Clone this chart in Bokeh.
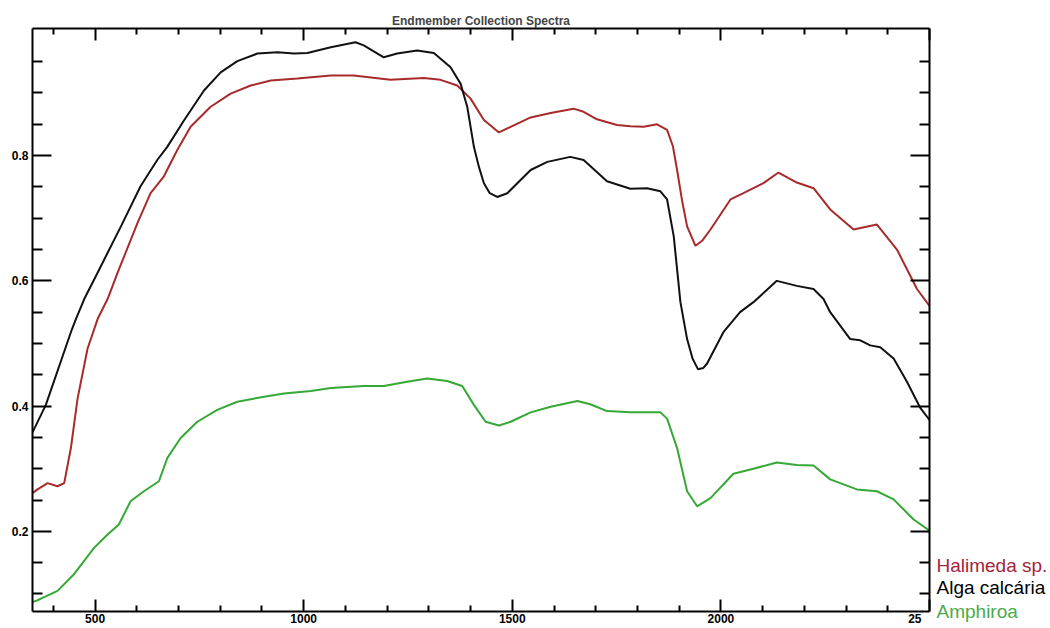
from bokeh.plotting import figure
from bokeh.models import Range1d, LinearAxis, FixedTicker
from bokeh.layouts import row
from bokeh.embed import file_html
from bokeh.resources import INLINE
from bokeh.core.properties import value

title_text = "Endmember Collection Spectra"

series_names = ["Halimeda sp.", "Alga calcária", "Amphiroa"]
line_colors = ["#a82a2a", "#111111", "#36a836"]
text_colors = ["#a3263a", "#000000", "#4aab4a"]

halimeda_wl = [350, 362, 386, 410, 426, 442, 458, 482, 506, 530, 554, 602, 633, 665, 697,
               729, 777, 825, 873, 921, 985, 1065, 1120, 1208, 1288, 1328, 1368, 1400, 1432,
               1468, 1496, 1544, 1592, 1647, 1671, 1703, 1751, 1783, 1815, 1847, 1871, 1885,
               1895, 1907, 1919, 1939, 1955, 1975, 2023, 2054, 2102, 2138, 2182, 2222, 2262,
               2318, 2374, 2422, 2470, 2500]
halimeda_refl = [0.261, 0.267, 0.277, 0.272, 0.277, 0.333, 0.412, 0.492, 0.539, 0.571, 0.613,
                 0.693, 0.740, 0.767, 0.809, 0.846, 0.878, 0.899, 0.912, 0.920, 0.923, 0.928,
                 0.928, 0.921, 0.924, 0.921, 0.912, 0.891, 0.857, 0.837, 0.846, 0.861, 0.868,
                 0.875, 0.870, 0.858, 0.849, 0.847, 0.846, 0.850, 0.841, 0.815, 0.777, 0.728,
                 0.687, 0.656, 0.664, 0.682, 0.730, 0.740, 0.756, 0.773, 0.757, 0.748, 0.714,
                 0.682, 0.690, 0.650, 0.587, 0.560]

alga_wl = [350, 382, 442, 454, 474, 506, 562, 609, 649, 673, 713, 761, 801, 841, 889, 937,
           977, 1009, 1065, 1124, 1144, 1192, 1224, 1272, 1312, 1352, 1376, 1392, 1408, 1420,
           1432, 1446, 1464, 1488, 1544, 1584, 1639, 1671, 1727, 1783, 1823, 1855, 1871, 1887,
           1903, 1919, 1932, 1945, 1958, 1967, 2006, 2046, 2078, 2134, 2182, 2222, 2246, 2262,
           2310, 2334, 2358, 2382, 2414, 2446, 2478, 2500]
alga_refl = [0.358, 0.402, 0.518, 0.539, 0.571, 0.613, 0.687, 0.751, 0.793, 0.814, 0.856,
             0.904, 0.933, 0.951, 0.963, 0.965, 0.963, 0.964, 0.973, 0.981, 0.976, 0.957,
             0.963, 0.968, 0.964, 0.941, 0.915, 0.878, 0.814, 0.782, 0.756, 0.740, 0.734,
             0.740, 0.777, 0.790, 0.798, 0.793, 0.759, 0.747, 0.748, 0.743, 0.730, 0.671,
             0.566, 0.507, 0.476, 0.459, 0.461, 0.468, 0.518, 0.550, 0.566, 0.600, 0.592,
             0.587, 0.571, 0.550, 0.507, 0.505, 0.497, 0.494, 0.476, 0.439, 0.397, 0.378]

amphiroa_wl = [350, 362, 378, 410, 450, 498, 530, 557, 585, 617, 653, 673, 705, 745, 793,
               841, 905, 953, 1017, 1065, 1144, 1192, 1248, 1296, 1344, 1380, 1408, 1436,
               1468, 1496, 1544, 1592, 1656, 1687, 1727, 1783, 1815, 1855, 1871, 1895, 1919,
               1943, 1975, 2030, 2078, 2134, 2182, 2222, 2262, 2326, 2374, 2414, 2462, 2500]
amphiroa_refl = [0.087, 0.090, 0.095, 0.105, 0.132, 0.174, 0.195, 0.211, 0.248, 0.264, 0.280,
                 0.317, 0.349, 0.375, 0.394, 0.407, 0.415, 0.420, 0.424, 0.429, 0.432, 0.432,
                 0.439, 0.444, 0.440, 0.432, 0.402, 0.375, 0.369, 0.375, 0.390, 0.399, 0.408,
                 0.403, 0.392, 0.390, 0.390, 0.390, 0.380, 0.333, 0.264, 0.240, 0.253, 0.292,
                 0.300, 0.310, 0.306, 0.305, 0.283, 0.267, 0.264, 0.251, 0.219, 0.201]

x_major = [500, 1000, 1500, 2000, 2500]
x_minor = [400, 600, 700, 800, 900, 1100, 1200, 1300, 1400, 1600, 1700, 1800, 1900,
           2100, 2200, 2300, 2400]
y_major = [0.2, 0.4, 0.6, 0.8]
y_minor = [0.1, 0.15, 0.25, 0.3, 0.35, 0.45, 0.5, 0.55, 0.65, 0.7, 0.75, 0.85, 0.9, 0.95]
x_label_overrides = {2500: "25" + "\u00a0" * 3}

FONT = "Liberation Sans"

p = figure(width=931, height=628, output_backend="svg", toolbar_location=None,
           x_range=Range1d(350, 2500), y_range=Range1d(0.072, 1.003),
           min_border_left=32, min_border_right=2, min_border_top=28, min_border_bottom=0)
p.frame_align = False
p.grid.visible = False
p.outline_line_color = None
p.background_fill_color = "white"
p.border_fill_color = "white"

p.title.text = title_text
p.title.align = "center"
p.title.text_font = FONT
p.title.text_font_size = "12px"
p.title.text_font_style = "bold"
p.title.standoff = 2
p.title.offset = 0


def style_axis(ax, major_len, minor_len, labels):
    ax.axis_line_width = 2
    ax.axis_line_color = "black"
    ax.major_tick_in = major_len
    ax.major_tick_out = 0
    ax.minor_tick_in = minor_len
    ax.minor_tick_out = 0
    ax.major_tick_line_width = 2
    ax.minor_tick_line_width = 2
    ax.major_tick_line_color = "black"
    ax.minor_tick_line_color = "black"
    ax.major_label_text_font = FONT
    ax.major_label_text_font_style = "bold"
    if labels:
        ax.major_label_text_font_size = "12px"
        ax.major_label_text_color = "black"
    else:
        ax.major_label_text_font_size = "1px"
        ax.major_label_text_color = None
        ax.major_label_standoff = 0


xb = p.xaxis[0]
xb.ticker = FixedTicker(ticks=x_major, minor_ticks=x_minor)
xb.major_label_overrides = x_label_overrides
style_axis(xb, 12, 6, True)
xb.major_label_standoff = 0

yl = p.yaxis[0]
yl.ticker = FixedTicker(ticks=y_major, minor_ticks=y_minor)
style_axis(yl, 19, 10, True)
yl.major_label_standoff = 4

xa = LinearAxis(ticker=FixedTicker(ticks=x_major, minor_ticks=x_minor))
style_axis(xa, 12, 6, False)
p.add_layout(xa, "above")

yr = LinearAxis(ticker=FixedTicker(ticks=y_major, minor_ticks=y_minor))
style_axis(yr, 19, 10, False)
p.add_layout(yr, "right")

p.line(halimeda_wl, halimeda_refl, line_color=line_colors[0], line_width=2)
p.line(amphiroa_wl, amphiroa_refl, line_color=line_colors[2], line_width=2)
p.line(alga_wl, alga_refl, line_color=line_colors[1], line_width=2)

# legend panel to the right: a small figure whose frame spans its whole canvas (pixel units)
q = figure(width=119, height=628, output_backend="svg", toolbar_location=None,
           x_range=Range1d(0, 119), y_range=Range1d(0, 628),
           min_border=0, min_border_left=0, min_border_right=0,
           min_border_top=0, min_border_bottom=0)
q.frame_align = False
q.axis.visible = False
q.grid.visible = False
q.outline_line_color = None
q.background_fill_color = "white"
q.border_fill_color = "white"

legend_x = [5, 5, 5]
legend_y = [63, 41, 17]
q.text(x=legend_x, y=legend_y, text=series_names, text_color=text_colors,
       text_font=value(FONT), text_font_size="19px",
       text_baseline="alphabetic", text_align="left")

open("out.html", "w").write(file_html(row(p, q), INLINE))
